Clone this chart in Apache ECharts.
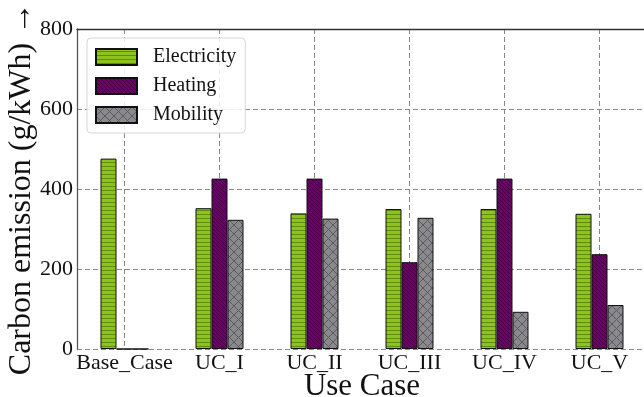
<!DOCTYPE html>
<html>
<head>
<meta charset="utf-8">
<script src="https://cdn.jsdelivr.net/npm/echarts@6/dist/echarts.min.js"></script>
<style>
  html, body { margin: 0; padding: 0; background: #fff; }
  #chart { width: 644px; height: 397px; }
</style>
</head>
<body>
<div id="chart"></div>
<script>
// Carbon emission per use case, split by energy sector (g/kWh)
const categories = ['Base_Case', 'UC_I', 'UC_II', 'UC_III', 'UC_IV', 'UC_V'];
const electricity = [476, 352, 339, 350, 350, 338];
const heating = [0, 426, 426, 217, 426, 237];
const mobility = [0, 323, 326, 328, 93, 110];
const yTicks = { min: 0, max: 800, interval: 200 };

const FONT = '"Liberation Serif", "Times New Roman", serif';

// Hatch fills drawn on small tiles and repeated over each bar
function hatch(base, line, kind) {
  const size = kind === 'h' ? 4 : (kind === 'd' ? 8 : 9);
  const c = document.createElement('canvas');
  c.width = size; c.height = size;
  const g = c.getContext('2d');
  g.fillStyle = base;
  g.fillRect(0, 0, size, size);
  g.strokeStyle = line;
  g.lineWidth = 1;
  g.beginPath();
  if (kind === 'h') {
    g.moveTo(0, 2.5); g.lineTo(size, 2.5);
  } else if (kind === 'd') {
    // back-diagonal lines
    for (let o = -size; o <= size; o += 4) {
      g.moveTo(o, 0); g.lineTo(o + size, size);
    }
  } else {
    // cross hatch
    g.moveTo(0, 0); g.lineTo(size, size);
    g.moveTo(size, 0); g.lineTo(0, size);
  }
  g.stroke();
  return { image: c, repeat: 'repeat' };
}

const fills = {
  electricity: hatch('#8ec21c', '#5e8c0c', 'h'),
  heating: hatch('#6c006a', '#45003f', 'd'),
  mobility: hatch('#8a8a8e', '#5a5a5e', 'x')
};

// helper axis: 13 slots so the odd ones fall on category centres
const helperSlots = Array.from({ length: categories.length * 2 + 1 }, () => '');

function barSeries(name, data, fill) {
  return {
    name: name,
    type: 'bar',
    data: data,
    barWidth: 16,
    barGap: '0%',
    xAxisIndex: 0,
    itemStyle: { color: fill, borderColor: '#111', borderWidth: 1 },
    emphasis: { disabled: true }
  };
}

const chart = echarts.init(document.getElementById('chart'), null, { renderer: 'canvas' });
chart.setOption({
  animation: false,
  backgroundColor: '#fff',
  grid: {
    left: 77, top: 29, width: 570, height: 320,
    containLabel: false,
    outerBoundsMode: 'none'
  },
  legend: {
    orient: 'vertical',
    left: 87,
    top: 38,
    padding: [9, 9, 8, 8],
    icon: 'rect',
    itemWidth: 41,
    itemHeight: 16,
    itemGap: 9,
    backgroundColor: 'rgba(255,255,255,0.85)',
    borderColor: '#d6d6d6',
    borderWidth: 1,
    borderRadius: 4,
    textStyle: { fontFamily: FONT, fontSize: 20, color: '#111', padding: [0, 0, 0, 11] },
    data: ['Electricity', 'Heating', 'Mobility']
  },
  xAxis: [
    {
      type: 'category',
      data: categories,
      position: 'bottom',
      boundaryGap: true,
      name: 'Use Case',
      nameLocation: 'middle',
      nameGap: 22,
      nameMoveOverlap: false,
      nameTextStyle: { fontFamily: FONT, fontSize: 31, color: '#111' },
      axisLine: { show: false },
      axisTick: { show: false },
      splitLine: { show: false },
      axisLabel: { fontFamily: FONT, fontSize: 22, color: '#111', margin: 3, interval: 0 }
    },
    {
      type: 'category',
      data: helperSlots,
      position: 'top',
      boundaryGap: false,
      axisLine: { show: true, lineStyle: { color: '#333', width: 1.3 } },
      axisTick: { show: false },
      axisLabel: { show: false },
      splitLine: {
        show: true,
        interval: (i) => i % 2 === 1,
        lineStyle: { color: '#888', type: [5, 3], width: 1 }
      }
    }
  ],
  yAxis: {
    type: 'value',
    min: yTicks.min,
    max: yTicks.max,
    interval: yTicks.interval,
    name: 'Carbon emission (g/kWh) \u2192',
    nameLocation: 'middle',
    nameRotate: 90,
    nameGap: 39,
    nameMoveOverlap: false,
    nameTextStyle: { fontFamily: FONT, fontSize: 32, color: '#111' },
    axisLine: { show: true, lineStyle: { color: '#555', width: 1.3 } },
    axisTick: { show: false },
    axisLabel: { fontFamily: FONT, fontSize: 22, color: '#111', margin: 4 },
    splitLine: { show: true, lineStyle: { color: '#888', type: [5, 3], width: 1 } }
  },
  series: [
    barSeries('Electricity', electricity, fills.electricity),
    barSeries('Heating', heating, fills.heating),
    barSeries('Mobility', mobility, fills.mobility)
  ]
});
</script>
</body>
</html>
